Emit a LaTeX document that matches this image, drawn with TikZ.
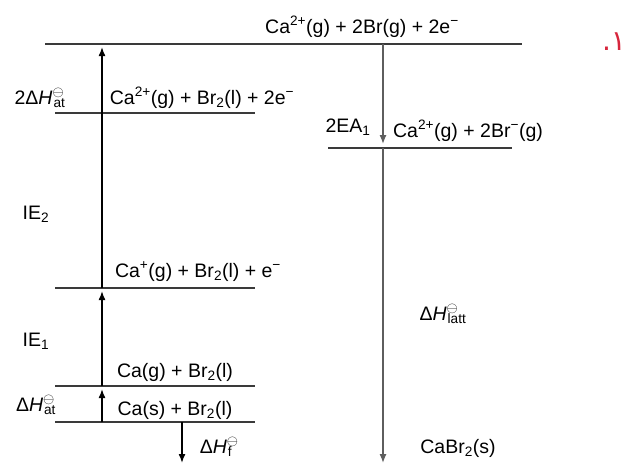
\documentclass[tikz,border=0pt]{standalone}
\usepackage{fontspec}
\setmainfont{Liberation Sans}
\newfontfamily\arabicfont[Script=Arabic]{DejaVu Sans}
\TeXXeTstate=1
\usepackage{xcolor}
\usetikzlibrary{arrows.meta}
\definecolor{bhline}{HTML}{3A3A3A}
\definecolor{bhgrey}{HTML}{5E5E5E}
\definecolor{bhred}{HTML}{D7263D}
\newcommand{\std}{\textsuperscript{$\ominus$}}
\newcommand{\dH}[1]{Δ\textit{H}\std\kern-0.55em\textsubscript{#1}}

\begin{document}
\begin{tikzpicture}[x=1pt,y=-1pt,
  font=\fontsize{19.5}{22}\selectfont,
  level/.style={draw=bhline,line width=1.3pt},
  lbl/.style={inner sep=0pt,anchor=base},
  ar/.style={-{Latex[length=9pt,width=7pt]},line width=1.5pt,shorten >=3pt},
  arr/.style={-{Latex[length=9pt,width=7pt]},line width=1.3pt,bhgrey,shorten >=4pt}]
\useasboundingbox (0,0) rectangle (632,464);

% ---- energy levels ----
\draw[level] (45,44) -- (522,44);
\draw[level] (55,113) -- (255,113);
\draw[level] (55,288) -- (255,288);
\draw[level] (55,386) -- (255,386);
\draw[level] (55,422) -- (255,422);
\draw[level] (328,148) -- (512,148);

% ---- species on the levels ----
\node[lbl] (top) at (362,33) {Ca\textsuperscript{2+}(g) + 2Br(g) + 2e\textsuperscript{−}};
\node[lbl] (catwo) at (202,104) {Ca\textsuperscript{2+}(g) + Br\textsubscript{2}(l) + 2e\textsuperscript{−}};
\node[lbl] (caone) at (198,277) {Ca\textsuperscript{+}(g) + Br\textsubscript{2}(l) + e\textsuperscript{−}};
\node[lbl] (cag) at (175,377) {Ca(g) + Br\textsubscript{2}(l)};
\node[lbl] (cas) at (175,415) {Ca(s) + Br\textsubscript{2}(l)};
\node[lbl] (brm) at (468,137) {Ca\textsuperscript{2+}(g) + 2Br\textsuperscript{−}(g)};
\node[lbl] (salt) at (458,453) {CaBr\textsubscript{2}(s)};

% ---- step labels ----
\node[lbl] (athbr) at (40,104) {2\dH{at}};
\node[lbl] (ietwo) at (36,219) {IE\textsubscript{2}};
\node[lbl] (ieone) at (36,346) {IE\textsubscript{1}};
\node[lbl] (athca) at (36,411) {\dH{at}};
\node[lbl] (hf) at (216,453) {\dH{f}};
\node[lbl] (ea) at (348,132) {2EA\textsubscript{1}};
\node[lbl] (hlatt) at (443,320) {\dH{latt}};
\node[lbl,text=bhred,font=\fontsize{28}{30}\selectfont] (qnum) at (614,50) {\arabicfont\beginR ١.\endR};

% ---- arrow end points ----
\coordinate (p0) at (102,422);
\coordinate (p1) at (102,386);
\coordinate (p2) at (102,288);
\coordinate (p3) at (102,113);
\coordinate (p4) at (102,44);
\coordinate (q0) at (383,44);
\coordinate (q1) at (383,148);
\coordinate (q2) at (383,464);
\coordinate (f0) at (182,422);
\coordinate (f1) at (182,464);

% ---- left cycle: up ----
\draw[ar] (p0) -- (p1);
\draw[ar] (p1) -- (p2);
\draw[line width=1.5pt] (p2) -- (p3);
\draw[ar] (p3) -- (p4);
\draw[ar,shorten >=1pt] (f0) -- (f1);

% ---- right cycle: down ----
\draw[arr] (q0) -- (q1);
\draw[arr,shorten >=1pt] (q1) -- (q2);
\end{tikzpicture}
\end{document}
